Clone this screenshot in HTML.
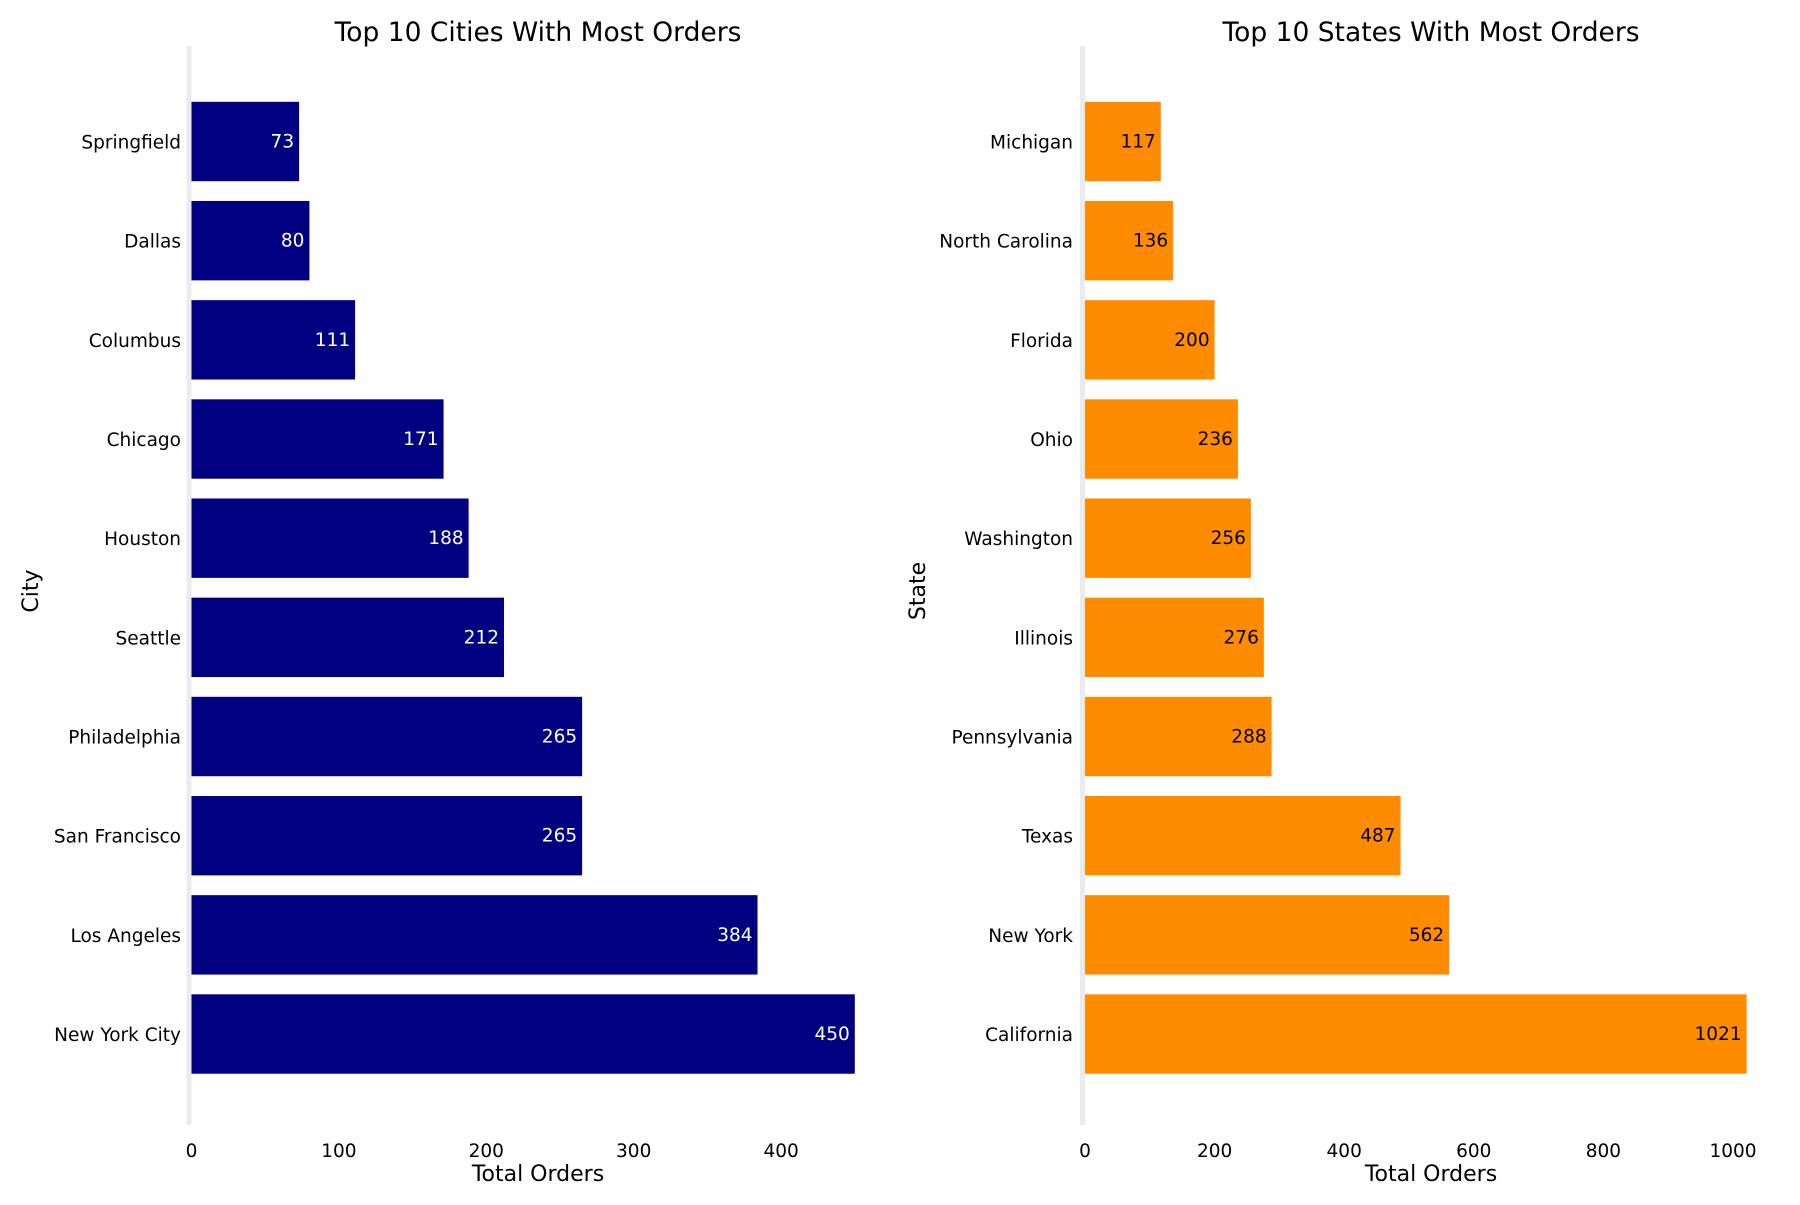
<!DOCTYPE html>
<html><head><meta charset="utf-8"><style>
body{margin:0;background:#fff}
svg text{font-family:"DejaVu Sans","Liberation Sans",sans-serif}
</style></head><body>
<svg id="c" width="1800" height="1200" xmlns="http://www.w3.org/2000/svg"></svg>
<script>
const cities=["Springfield","Dallas","Columbus","Chicago","Houston","Seattle","Philadelphia","San Francisco","Los Angeles","New York City"];
const cityOrders=[73,80,111,171,188,212,265,265,384,450];
const cityTicks=[0,100,200,300,400];
const states=["Michigan","North Carolina","Florida","Ohio","Washington","Illinois","Pennsylvania","Texas","New York","California"];
const stateOrders=[117,136,200,236,256,276,288,487,562,1021];
const stateTicks=[0,200,400,600,800,1000];
const svg=document.getElementById('c');
const NS='http://www.w3.org/2000/svg';
function mk(t,a,txt){const e=document.createElementNS(NS,t);for(const k in a)e.setAttribute(k,a[k]);if(txt!==undefined)e.textContent=txt;svg.appendChild(e);return e;}
function panel(o){
  const x=v=>o.x0+v*o.sc;
  const y=i=>141.5+i*99.17;
  const sp=mk('rect',{x:o.x0-5,y:46,width:5,height:1079,fill:'#ebebeb'});
  
  
  const t=mk('text',{x:o.tc,y:41,'font-size':26.5,'text-anchor':'middle',fill:'#000'},o.title);
  
  
  o.cats.forEach((c,i)=>{
    const b=mk('rect',{x:x(0),y:y(i)-39.7,width:x(o.vals[i])-x(0),height:79.4,fill:o.color});
    
    
    const l=mk('text',{x:o.yr,y:y(i)+7,'font-size':18.5,'text-anchor':'end',fill:'#000'},c);
    
    
    const v=mk('text',{x:x(o.vals[i])-5,y:y(i)+6,'font-size':18.5,'text-anchor':'end',fill:o.vc},String(o.vals[i]));
    
    
  });
  o.ticks.forEach(tk=>{
    const e=mk('text',{x:x(tk),y:1157,'font-size':18.5,'text-anchor':'middle',fill:'#000'},String(tk));
    
    
  });
  const xl=mk('text',{x:o.tc,y:1181,'font-size':22,'text-anchor':'middle',fill:'#000'},'Total Orders');
  
  
  const yl=mk('text',{x:0,y:0,'font-size':22,'text-anchor':'middle',fill:'#000',transform:`translate(${o.yl},591) rotate(-90)`},o.ylabel);
  
  
}
panel({id:'cities',x0:191.5,sc:1.474,tc:538,yr:181,title:'Top 10 Cities With Most Orders',cats:cities,vals:cityOrders,ticks:cityTicks,color:'#000080',vc:'#fff',ylabel:'City',yl:38});
panel({id:'states',x0:1085,sc:0.648,tc:1431,yr:1073,title:'Top 10 States With Most Orders',cats:states,vals:stateOrders,ticks:stateTicks,color:'#ff8c00',vc:'#000',ylabel:'State',yl:925});
</script>
</body></html>
